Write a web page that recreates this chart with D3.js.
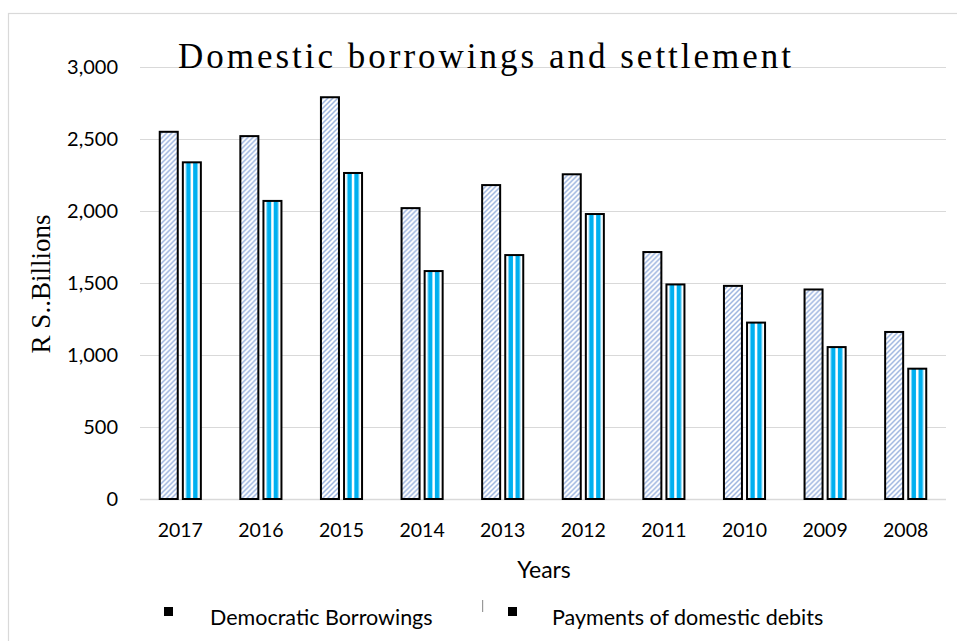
<!DOCTYPE html>
<html>
<head>
<meta charset="utf-8">
<script src="https://cdn.jsdelivr.net/npm/d3@7"></script>
<style>
  body { margin: 0; background: #fff; }
  svg text { fill: #000; }
</style>
</head>
<body>
<svg id="chart" width="957" height="641"></svg>
<script>
// data
const years = ["2017", "2016", "2015", "2014", "2013", "2012", "2011", "2010", "2009", "2008"];
const borrowings = [2550, 2520, 2790, 2020, 2180, 2255, 1715, 1480, 1455, 1160];
const payments = [2338, 2070, 2264, 1583, 1694, 1979, 1490, 1225, 1055, 905];
const seriesNames = ["Democratic Borrowings", "Payments of domestic debits"];
const yTicks = [0, 500, 1000, 1500, 2000, 2500, 3000];

const rows = years.map((y, i) => ({ year: y, values: [borrowings[i], payments[i]] }));

const svg = d3.select("#chart");
const margin = { left: 140, right: 946, top: 67, bottom: 499 };
const sans = "Lato, 'Liberation Sans', sans-serif";
const serif = "'Liberation Serif', serif";

const defs = svg.append("defs");

// hatched fill for the first series
const hatch = defs.append("pattern")
  .attr("id", "hatch")
  .attr("patternUnits", "userSpaceOnUse")
  .attr("width", 5)
  .attr("height", 5);
hatch.append("rect").attr("width", 5).attr("height", 5).attr("fill", "#fff");
hatch.append("path")
  .attr("d", "M-1,1 l2,-2 M0,5 l5,-5 M4,6 l2,-2")
  .attr("stroke", "#9db5e0")
  .attr("stroke-width", 1.5);

// vertical stripes for the second series
const stripes = defs.append("linearGradient")
  .attr("id", "stripes")
  .attr("x1", "0").attr("x2", "1").attr("y1", "0").attr("y2", "0");
[
  [0, "#ffffff"], [0.12, "#ffffff"], [0.18, "#7fd8f8"], [0.24, "#00b0f0"],
  [0.40, "#00b0f0"], [0.46, "#ffffff"], [0.54, "#ffffff"], [0.60, "#00b0f0"],
  [0.76, "#00b0f0"], [0.82, "#7fd8f8"], [0.88, "#ffffff"], [1, "#ffffff"]
].forEach(([o, c]) => stripes.append("stop").attr("offset", o).attr("stop-color", c));

const fills = ["url(#hatch)", "url(#stripes)"];

// outer chart frame
svg.append("rect")
  .attr("x", 8.5).attr("y", 13.5)
  .attr("width", 960).attr("height", 640)
  .attr("fill", "none")
  .attr("stroke", "#d9d9d9")
  .attr("stroke-width", 1.2);

const x0 = d3.scaleBand()
  .domain(years)
  .range([margin.left, margin.right])
  .paddingInner(0.49)
  .paddingOuter(0.245);

const x1 = d3.scaleBand()
  .domain([0, 1])
  .range([0, x0.bandwidth()])
  .paddingInner(0.22);

const y = d3.scaleLinear()
  .domain([0, 3000])
  .range([margin.bottom, margin.top]);

// gridlines
svg.append("g")
  .selectAll("line")
  .data(yTicks)
  .join("line")
  .attr("x1", margin.left)
  .attr("x2", margin.right)
  .attr("y1", d => Math.round(y(d)) + 0.5)
  .attr("y2", d => Math.round(y(d)) + 0.5)
  .attr("stroke", "#d9d9d9")
  .attr("stroke-width", d => d === 0 ? 1.5 : 1);

// y tick labels
svg.append("g")
  .selectAll("text")
  .data(yTicks)
  .join("text")
  .attr("x", 118)
  .attr("y", d => y(d))
  .attr("dy", "0.35em")
  .attr("text-anchor", "end")
  .style("font-family", sans)
  .style("font-size", "20px")
  .text(d => d3.format(",")(d));

// bars
const group = svg.append("g")
  .selectAll("g")
  .data(rows)
  .join("g")
  .attr("transform", d => `translate(${x0(d.year)},0)`);

group.selectAll("rect")
  .data(d => d.values.map((v, i) => ({ i, v })))
  .join("rect")
  .attr("x", d => x1(d.i))
  .attr("y", d => y(d.v))
  .attr("width", x1.bandwidth())
  .attr("height", d => y(0) - y(d.v))
  .attr("fill", d => fills[d.i])
  .attr("stroke", "#000")
  .attr("stroke-width", 2);

// x tick labels
svg.append("g")
  .selectAll("text")
  .data(years)
  .join("text")
  .attr("x", d => x0(d) + x0.bandwidth() / 2)
  .attr("y", 537)
  .attr("text-anchor", "middle")
  .style("font-family", sans)
  .style("font-size", "19.5px")
  .text(d => d);

// title
svg.append("text")
  .attr("x", 486)
  .attr("y", 68)
  .attr("text-anchor", "middle")
  .style("font-family", serif)
  .style("font-size", "35px")
  .style("letter-spacing", "3px")
  .text("Domestic borrowings and settlement");

// axis titles
svg.append("text")
  .attr("transform", "translate(50,284) rotate(-90)")
  .attr("text-anchor", "middle")
  .style("font-family", serif)
  .style("font-size", "27px")
  .text("R S..Billions");

svg.append("text")
  .attr("x", 544)
  .attr("y", 578)
  .attr("text-anchor", "middle")
  .style("font-family", sans)
  .style("font-size", "23px")
  .text("Years");

// legend
const legendX = [164, 508];
const legend = svg.append("g")
  .selectAll("g")
  .data(seriesNames)
  .join("g")
  .attr("transform", (d, i) => `translate(${legendX[i]},607)`);

legend.append("rect")
  .attr("width", 9)
  .attr("height", 9)
  .attr("fill", "#000");

legend.append("text")
  .attr("x", (d, i) => i === 0 ? 46 : 44)
  .attr("y", 18)
  .style("font-family", sans)
  .style("font-size", "21.5px")
  .text(d => d);

svg.append("rect")
  .attr("x", 482).attr("y", 600)
  .attr("width", 1.2).attr("height", 12)
  .attr("fill", "#999");
</script>
</body>
</html>
